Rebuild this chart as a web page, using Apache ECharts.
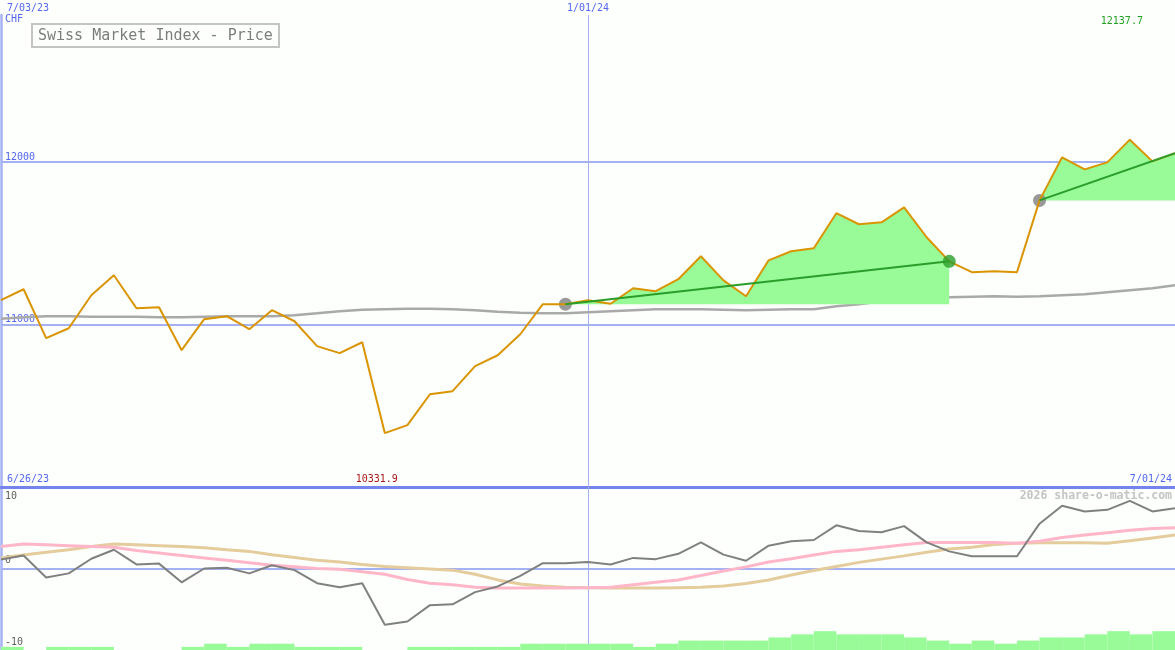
<!DOCTYPE html>
<html>
<head>
<meta charset="utf-8">
<script src="https://cdn.jsdelivr.net/npm/echarts@6/dist/echarts.min.js"></script>
<style>
html,body{margin:0;padding:0;background:#fdfffd;}
#c{width:1175px;height:650px;}
</style>
</head>
<body>
<div id="c"></div>
<script>
const categories = ['7/03/23','7/10/23','7/17/23','7/24/23','7/31/23','8/07/23','8/14/23','8/21/23','8/28/23',
  '9/04/23','9/11/23','9/18/23','9/25/23','10/02/23','10/09/23','10/16/23','10/23/23','10/30/23',
  '11/06/23','11/13/23','11/20/23','11/27/23','12/04/23','12/11/23','12/18/23','12/25/23',
  '1/01/24','1/08/24','1/15/24','1/22/24','1/29/24','2/05/24','2/12/24','2/19/24','2/26/24',
  '3/04/24','3/11/24','3/18/24','3/25/24','4/01/24','4/08/24','4/15/24','4/22/24','4/29/24',
  '5/06/24','5/13/24','5/20/24','5/27/24','6/03/24','6/10/24','6/17/24','6/24/24','7/01/24'];
const price = [11150, 11217, 10916, 10977, 11180, 11303, 11100, 11106, 10842, 11033, 11051, 10971, 11088,
  11020, 10867, 10824, 10891, 10331.9, 10381, 10571, 10590, 10744, 10811, 10940, 11125, 11125,
  11150, 11128, 11223, 11205, 11279, 11420, 11272, 11174, 11395, 11451, 11469, 11685, 11617,
  11629, 11721, 11537, 11389, 11322, 11328, 11322, 11764, 12029, 11955, 11998, 12137.7, 12004, 12054];
const movingAvg = [11035, 11045, 11051, 11051, 11048, 11048, 11048, 11045, 11045, 11048, 11051, 11051, 11051,
  11057, 11069, 11082, 11091, 11094, 11097, 11097, 11094, 11088, 11079, 11073, 11069, 11069,
  11076, 11082, 11088, 11094, 11094, 11094, 11091, 11088, 11091, 11094, 11094, 11113, 11125,
  11143, 11156, 11162, 11168, 11171, 11174, 11171, 11174, 11180, 11186, 11199, 11211, 11223, 11242];
const oscillator = [1.1, 1.6, -1.1, -0.6, 1.2, 2.3, 0.5, 0.6, -1.7, 0, 0.1, -0.6, 0.4, -0.2, -1.8, -2.3, -1.8,
  -6.9, -6.5, -4.5, -4.4, -2.9, -2.2, -0.9, 0.65, 0.65, 0.8, 0.5, 1.3, 1.15, 1.8, 3.2, 1.7, 0.95,
  2.8, 3.35, 3.5, 5.3, 4.6, 4.45, 5.2, 3.2, 2.1, 1.5, 1.5, 1.5, 5.5, 7.7, 7.0, 7.2, 8.3, 7.0, 7.4];
const pinkSignal = [2.7, 3.0, 2.9, 2.8, 2.7, 2.6, 2.2, 1.9, 1.6, 1.3, 1.0, 0.7, 0.4, 0.2, 0, -0.1, -0.4, -0.7,
  -1.35, -1.8, -2.0, -2.3, -2.4, -2.4, -2.4, -2.4, -2.35, -2.3, -2.0, -1.7, -1.4, -0.85, -0.3, 0.2,
  0.8, 1.2, 1.65, 2.1, 2.3, 2.6, 2.9, 3.2, 3.2, 3.2, 3.2, 3.1, 3.35, 3.8, 4.1, 4.4, 4.7, 4.9, 5.0];
const tanSignal = [1.3, 1.65, 2.0, 2.3, 2.7, 3.0, 2.9, 2.8, 2.7, 2.55, 2.3, 2.1, 1.7, 1.35, 1.0, 0.8, 0.5, 0.25,
  0.1, -0.05, -0.2, -0.7, -1.4, -1.9, -2.15, -2.3, -2.35, -2.4, -2.4, -2.4, -2.35, -2.3, -2.15, -1.85,
  -1.4, -0.8, -0.25, 0.25, 0.75, 1.15, 1.55, 2.0, 2.4, 2.6, 2.95, 3.1, 3.15, 3.15, 3.15, 3.1, 3.4, 3.75, 4.1];
const barLevels = [1,0,1,1,1,0,0,0,1,2,1,2,2,1,1,1,0,0,1,1,1,1,1,2,2,2,2,2,1,2,3,3,3,3,4,5,6,5,5,5,4,3,2,3,2,3,4,4,5,6,5,6];
const barCategories = barLevels.map((v, i) => categories[i]);
const trendStart = [25, 46];
const trendEnd = [42, 52];
const priceTicks = [11000, 12000];
const oscTicks = [-10, 0, 10];
const markerDate = '1/01/24';
const titleText = 'Swiss Market Index - Price';
const currency = 'CHF';
const firstDate = '7/03/23';
const oscStartDate = '6/26/23';
const lastDate = '7/01/24';
const watermark = '2026 share-o-matic.com';

const MONO = '"DejaVu Sans Mono", monospace';
const BLUE_TXT = '#5468ee';
const GRID_BLUE = '#a4b2f4';

const series = [];

series.push({
  name: 'avg', type: 'line', xAxisIndex: 0, yAxisIndex: 0, data: movingAvg,
  symbol: 'none', lineStyle: {color: '#a9a9a9', width: 2.5}, z: 2, silent: true,
  markLine: {
    silent: true, symbol: 'none', z: 1,
    data: priceTicks.map(v => ({yAxis: v, lineStyle: {color: GRID_BLUE, width: 2, type: 'solid'}, label: {show: false}}))
      .concat([{xAxis: markerDate, lineStyle: {color: GRID_BLUE, width: 1, type: 'solid'},
        label: {show: true, position: 'end', formatter: markerDate, color: BLUE_TXT, fontFamily: MONO, fontSize: 10, distance: 2}}])
  }
});

trendStart.forEach((s, k) => {
  const e = trendEnd[k];
  series.push({
    type: 'line', xAxisIndex: 0, yAxisIndex: 0,
    data: price.map((p, i) => (i >= s && i <= e) ? p : null),
    symbol: 'none', lineStyle: {width: 0}, z: 3, silent: true,
    areaStyle: {color: '#98fb98', opacity: 1, origin: price[s]}
  });
});

series.push({
  name: 'price', type: 'line', xAxisIndex: 0, yAxisIndex: 0, data: price,
  symbol: 'none', lineStyle: {color: '#d99400', width: 2}, z: 5, silent: true,
  markPoint: {
    symbol: 'circle', symbolSize: 1, itemStyle: {color: 'rgba(0,0,0,0)'}, silent: true,
    data: [
      {type: 'max', y: 21, label: {show: true, position: 'inside', offset: [-8, 0], color: '#22a022', fontFamily: MONO, fontSize: 10, formatter: p => p.value.toFixed(1)}},
      {type: 'min', y: 479, label: {show: true, position: 'inside', offset: [-8, 0], color: '#a81818', fontFamily: MONO, fontSize: 10, formatter: p => p.value.toFixed(1)}}
    ]
  }
});

series.push({
  type: 'scatter', xAxisIndex: 0, yAxisIndex: 0,
  data: trendStart.map(s => [s, price[s]]),
  symbolSize: 13, itemStyle: {color: '#808080'}, z: 4, silent: true
});

trendStart.forEach((s, k) => {
  const e = trendEnd[k];
  series.push({
    type: 'line', xAxisIndex: 0, yAxisIndex: 0,
    data: [[s, price[s]], [e, price[e]]],
    symbol: 'none', lineStyle: {color: '#2a9d2a', width: 2}, z: 7, silent: true
  });
});

series.push({
  type: 'scatter', xAxisIndex: 0, yAxisIndex: 0,
  data: trendEnd.filter(e => e < price.length - 1).map(e => [e, price[e]]),
  symbolSize: 13, itemStyle: {color: '#2a9d2a'}, z: 8, silent: true
});

// lower panel
series.push({
  type: 'bar', xAxisIndex: 2, yAxisIndex: 2, data: barLevels,
  barCategoryGap: '0%', itemStyle: {color: '#98fb98'}, z: 1, silent: true
});
series.push({
  type: 'line', xAxisIndex: 1, yAxisIndex: 1, data: tanSignal,
  symbol: 'none', lineStyle: {color: '#e4cc9c', width: 3}, z: 3, silent: true,
  markLine: {
    silent: true, symbol: 'none', z: 1, label: {show: false},
    data: [
      {yAxis: 0, lineStyle: {color: GRID_BLUE, width: 2, type: 'solid'}},
      {xAxis: markerDate, lineStyle: {color: GRID_BLUE, width: 1, type: 'solid'}}
    ]
  }
});
series.push({
  type: 'line', xAxisIndex: 1, yAxisIndex: 1, data: pinkSignal,
  symbol: 'none', lineStyle: {color: '#ffb6c8', width: 3}, z: 4, silent: true
});
series.push({
  type: 'line', xAxisIndex: 1, yAxisIndex: 1, data: oscillator,
  symbol: 'none', lineStyle: {color: '#808080', width: 2}, z: 5, silent: true
});

const option = {
  backgroundColor: '#fdfffd',
  animation: false,
  title: {
    text: titleText, left: 32, top: 24, padding: [4, 6, 3, 6],
    borderColor: '#c4c4c4', borderWidth: 2,
    textStyle: {fontFamily: MONO, fontSize: 15, fontWeight: 'normal', color: '#7c7c7c', lineHeight: 16}
  },
  grid: [
    {left: 1, right: 0, top: 15, height: 472},
    {left: 1, right: 0, top: 487, height: 163}
  ],
  xAxis: [
    {type: 'category', gridIndex: 0, data: categories, boundaryGap: false,
      axisLine: {show: true, onZero: false, lineStyle: {color: '#7484ec', width: 3}},
      axisTick: {show: false}, axisLabel: {show: false}, splitLine: {show: false}},
    {type: 'category', gridIndex: 1, data: categories, boundaryGap: false,
      axisLine: {show: false}, axisTick: {show: false}, axisLabel: {show: false}, splitLine: {show: false}},
    {type: 'category', gridIndex: 1, data: barCategories, boundaryGap: true, show: false}
  ],
  yAxis: [
    {type: 'value', gridIndex: 0, min: 10000, max: 12905, interval: 1000,
      axisLine: {show: true, lineStyle: {color: GRID_BLUE, width: 2.5}},
      axisTick: {show: false}, splitLine: {show: false},
      axisLabel: {inside: true, margin: 4, verticalAlign: 'bottom', color: BLUE_TXT, fontFamily: MONO, fontSize: 10,
        formatter: v => priceTicks.indexOf(v) >= 0 ? String(v) : ''}},
    {type: 'value', gridIndex: 1, min: -10, max: 10, interval: 10,
      axisLine: {show: true, lineStyle: {color: GRID_BLUE, width: 2.5}},
      axisTick: {show: false}, splitLine: {show: false},
      axisLabel: {inside: true, margin: 4, verticalAlign: 'bottom', verticalAlignMaxLabel: 'top',
        color: '#606060', fontFamily: MONO, fontSize: 10, padding: [4, 0, 3, 0],
        formatter: v => oscTicks.indexOf(v) >= 0 ? String(v) : ''}},
    {type: 'value', gridIndex: 1, min: 0, max: 52, show: false}
  ],
  graphic: [
    {type: 'text', left: 7, top: 3, style: {text: firstDate, fill: BLUE_TXT, font: '10px ' + MONO}},
    {type: 'text', left: 5, top: 14, style: {text: currency, fill: BLUE_TXT, font: '10px ' + MONO}},
    {type: 'text', left: 7, top: 474, style: {text: oscStartDate, fill: BLUE_TXT, font: '10px ' + MONO}},
    {type: 'text', right: 3, top: 474, style: {text: lastDate, fill: BLUE_TXT, font: '10px ' + MONO}},
    {type: 'text', right: 3, top: 490, style: {text: watermark, fill: '#c4c4c4', font: 'bold 11.5px ' + MONO}}
  ],
  series: series
};

const chart = echarts.init(document.getElementById('c'), null, {renderer: 'canvas'});
chart.setOption(option);
</script>
</body>
</html>
